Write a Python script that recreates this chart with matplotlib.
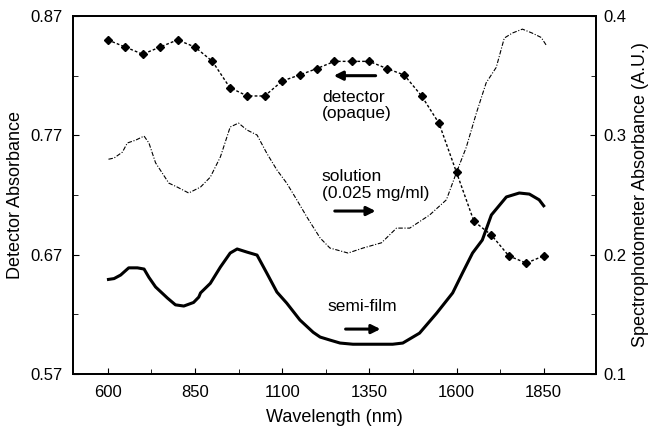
import matplotlib.pyplot as plt
import numpy as np

plt.rcParams['font.family'] = ['Liberation Sans', 'DejaVu Sans']

# detector absorbance (left axis), measured every 50 nm
det_wl = np.arange(600, 1851, 50)
det_abs = [0.850, 0.844, 0.838, 0.844, 0.850, 0.844, 0.832, 0.810, 0.803, 0.803,
           0.8155, 0.8206, 0.826, 0.832, 0.832, 0.832, 0.826, 0.8206, 0.803, 0.780,
           0.739, 0.698, 0.6865, 0.669, 0.663, 0.669]

# solution spectrum (right axis)
sol_wl = [602, 618, 642, 656, 680, 704, 718, 737, 775, 799, 832, 866, 894, 923, 951,
          975, 999, 1028, 1056, 1085, 1113, 1142, 1171, 1189, 1209, 1237, 1289, 1332,
          1385, 1428, 1466, 1523, 1571, 1600, 1628, 1657, 1685, 1714, 1737, 1760, 1789,
          1817, 1843, 1857]
sol_abs = [0.280, 0.281, 0.286, 0.2936, 0.296, 0.2994, 0.2936, 0.277, 0.260, 0.2567,
           0.2517, 0.2567, 0.265, 0.282, 0.307, 0.3103, 0.3045, 0.3003, 0.285, 0.271,
           0.260, 0.246, 0.2316, 0.2232, 0.214, 0.2056, 0.2014, 0.2056, 0.210, 0.2223,
           0.2223, 0.2333, 0.246, 0.269, 0.290, 0.3187, 0.344, 0.357, 0.3815, 0.3857,
           0.389, 0.3857, 0.382, 0.3757]

# semi-film spectrum (right axis)
film_wl = [602, 618, 637, 660, 685, 704, 718, 737, 771, 794, 818, 846, 861, 866, 894,
           923, 951, 971, 999, 1028, 1056, 1085, 1113, 1151, 1189, 1209, 1237, 1266,
           1303, 1350, 1417, 1446, 1494, 1543, 1589, 1617, 1646, 1674, 1700, 1743,
           1780, 1809, 1837, 1850]
film_abs = [0.1793, 0.180, 0.183, 0.189, 0.189, 0.188, 0.181, 0.173, 0.1637, 0.158,
            0.157, 0.160, 0.1645, 0.168, 0.176, 0.1897, 0.2014, 0.2048, 0.2022, 0.1997,
            0.1846, 0.1687, 0.1595, 0.1453, 0.135, 0.131, 0.1285, 0.126, 0.125, 0.125,
            0.125, 0.126, 0.1343, 0.151, 0.168, 0.1846, 0.2014, 0.2123, 0.2333, 0.2484,
            0.2517, 0.2508, 0.246, 0.241]

fig = plt.figure(figsize=(6.51, 4.28), dpi=100)
ax = fig.add_axes([0.112, 0.126, 0.8035, 0.8366])
ax2 = ax.twinx()

ax.plot(det_wl, det_abs, color='black', linestyle=(0, (2, 1.5)), linewidth=1,
        marker='D', markersize=4.3)
ax2.plot(sol_wl, sol_abs, color='black', linestyle=(0, (4, 1.5, 1, 1.5)), linewidth=0.8)
ax2.plot(film_wl, film_abs, color='black', linewidth=2.2)

ax.set_xlim(500, 2000)
ax.set_ylim(0.57, 0.87)
ax2.set_ylim(0.1, 0.4)
ax.set_xticks([600, 850, 1100, 1350, 1600, 1850])
ax.set_xticks([725, 975, 1225, 1475, 1725], minor=True)
ax.set_yticks([0.57, 0.67, 0.77, 0.87])
ax.set_yticklabels(['0.57', '0.67', '0.77', '0.87'])
ax.set_yticks([0.62, 0.72, 0.82], minor=True)
ax2.set_yticks([0.1, 0.2, 0.3, 0.4])
ax2.set_yticks([0.15, 0.25, 0.35], minor=True)

for a in (ax, ax2):
    a.tick_params(which='both', direction='in', labelsize=12)
    a.tick_params(which='major', length=4.5)
    a.tick_params(which='minor', length=3.5)
    for s in a.spines.values():
        s.set_linewidth(1.3)
ax.tick_params(axis='x', pad=8)
ax.tick_params(axis='y', pad=7.5)
ax2.tick_params(axis='y', pad=5)

ax.set_xlabel('Wavelength (nm)', fontsize=13)
ax.set_ylabel('Detector Absorbance', fontsize=13)
ax2.set_ylabel('Spectrophotometer Absorbance (A.U.)', fontsize=13)
ax.xaxis.set_label_coords(0.5, -0.098)
ax.yaxis.set_label_coords(-0.094, 0.5)
ax2.yaxis.set_label_coords(1.068, 0.5)

arrow = dict(arrowstyle='-|>', color='black', lw=2.2, mutation_scale=13)
ax2.text(1214, 0.325, 'detector\n(opaque)', fontsize=12.5, va='center', ha='left', linespacing=1.15)
ax2.annotate('', xy=(1240, 0.350), xytext=(1376, 0.350), arrowprops=arrow)
ax2.text(1214, 0.2585, 'solution\n(0.025 mg/ml)', fontsize=12.5, va='center', ha='left', linespacing=1.15)
ax2.annotate('', xy=(1376, 0.2366), xytext=(1243, 0.2366), arrowprops=arrow)
ax2.text(1231, 0.157, 'semi-film', fontsize=12.5, va='center', ha='left')
ax2.annotate('', xy=(1390, 0.1377), xytext=(1274, 0.1377), arrowprops=arrow)

fig.savefig('out.png', dpi=100)
